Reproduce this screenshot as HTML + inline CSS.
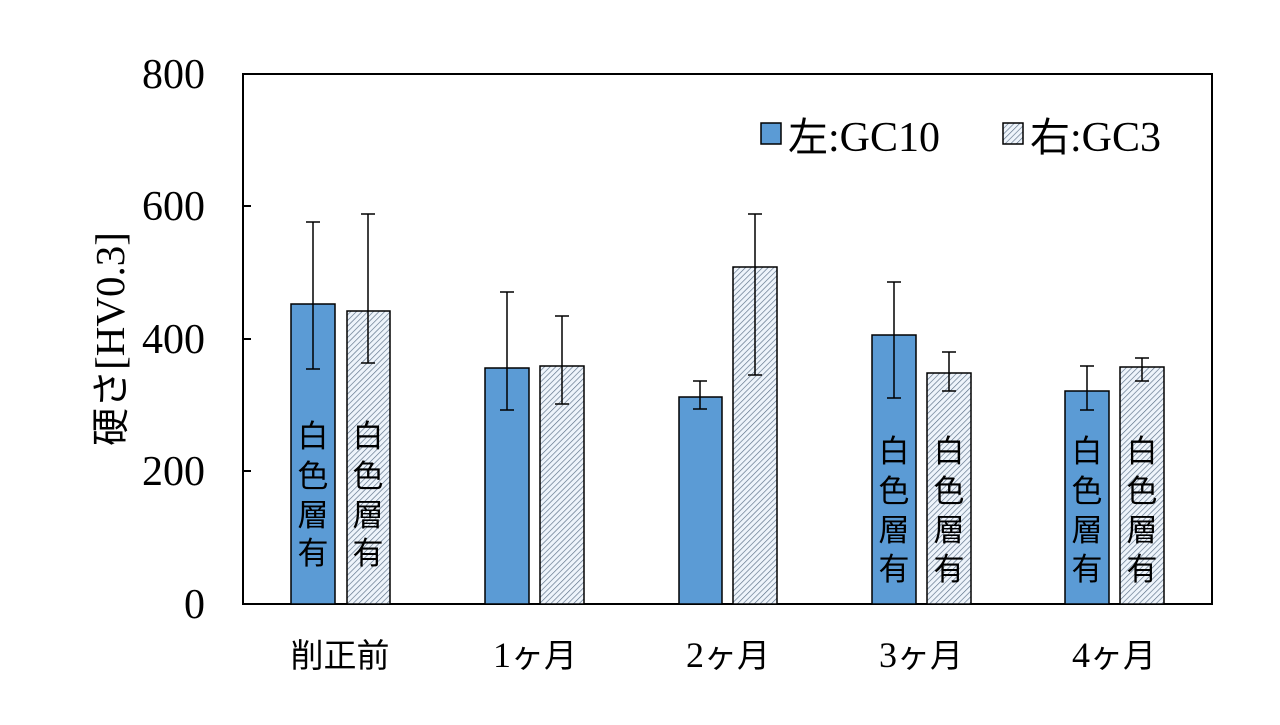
<!DOCTYPE html>
<html><head><meta charset="utf-8"><style>body{margin:0;background:#fff}</style></head><body>
<svg width="1280" height="720" xmlns="http://www.w3.org/2000/svg">
<defs>
<pattern id="h" patternUnits="userSpaceOnUse" width="4" height="4" patternTransform="rotate(45)">
<rect width="4" height="4" fill="#eef4fb"/>
<line x1="0" y1="0" x2="0" y2="4" stroke="#5a6f86" stroke-width="1.3"/>
</pattern>
</defs>
<rect x="243" y="74" width="969" height="530" fill="none" stroke="#000" stroke-width="2"/>
<g font-family="Liberation Serif, serif" font-size="42" text-anchor="end">
<text x="205" y="88">800</text><text x="205" y="220">600</text><text x="205" y="353">400</text><text x="205" y="485">200</text><text x="205" y="618">0</text>
</g>
<g stroke="#000" stroke-width="2">
<line x1="243" y1="206" x2="251" y2="206"/><line x1="243" y1="339" x2="251" y2="339"/><line x1="243" y1="471" x2="251" y2="471"/>
</g>
<text transform="translate(124,339) rotate(-90)" text-anchor="middle" font-family="Liberation Serif, 'Noto Sans CJK JP', serif" font-size="41"><tspan font-family="Noto Sans CJK JP, sans-serif" font-size="38">硬さ</tspan>[HV0.3]</text>
<g stroke="#000" stroke-width="1.5">
<rect x="291" y="304" width="44" height="300" fill="#5B9BD5"/>
<rect x="347" y="311" width="43" height="293" fill="url(#h)"/>
<rect x="485" y="368" width="44" height="236" fill="#5B9BD5"/>
<rect x="540" y="366" width="44" height="238" fill="url(#h)"/>
<rect x="679" y="397" width="43" height="207" fill="#5B9BD5"/>
<rect x="733" y="267" width="44" height="337" fill="url(#h)"/>
<rect x="872" y="335" width="44" height="269" fill="#5B9BD5"/>
<rect x="927" y="373" width="44" height="231" fill="url(#h)"/>
<rect x="1065" y="391" width="44" height="213" fill="#5B9BD5"/>
<rect x="1120" y="367" width="44" height="237" fill="url(#h)"/>
</g>
<g stroke="#000" stroke-width="1.5" fill="none">
<path d="M313 222V369M306 222h14M306 369h14"/>
<path d="M368 214V363M361 214h14M361 363h14"/>
<path d="M507 292V410M500 292h14M500 410h14"/>
<path d="M562 316V404M555 316h14M555 404h14"/>
<path d="M700 381V409M693 381h14M693 409h14"/>
<path d="M755 214V375M748 214h14M748 375h14"/>
<path d="M894 282V398M887 282h14M887 398h14"/>
<path d="M949 352V391M942 352h14M942 391h14"/>
<path d="M1087 366V410M1080 366h14M1080 410h14"/>
<path d="M1142 358V381M1135 358h14M1135 381h14"/>
</g>
<g font-family="Noto Sans CJK JP, sans-serif" font-size="31" text-anchor="middle">
<text x="313" y="447">白</text><text x="313" y="487">色</text><text x="313" y="526">層</text><text x="313" y="564">有</text>
<text x="368" y="447">白</text><text x="368" y="487">色</text><text x="368" y="526">層</text><text x="368" y="564">有</text>
<text x="894" y="462">白</text><text x="894" y="502">色</text><text x="894" y="541">層</text><text x="894" y="580">有</text>
<text x="949" y="462">白</text><text x="949" y="502">色</text><text x="949" y="541">層</text><text x="949" y="580">有</text>
<text x="1087" y="462">白</text><text x="1087" y="502">色</text><text x="1087" y="541">層</text><text x="1087" y="580">有</text>
<text x="1142" y="462">白</text><text x="1142" y="502">色</text><text x="1142" y="541">層</text><text x="1142" y="580">有</text>
</g>
<g font-family="Liberation Serif, 'Noto Sans CJK JP', serif" font-size="36" text-anchor="middle">
<text x="340" y="667" font-family="Noto Sans CJK JP, sans-serif" font-size="33">削正前</text>
<text x="535" y="667">1<tspan font-family="Noto Sans CJK JP, sans-serif" font-size="33">ヶ月</tspan></text>
<text x="728" y="667">2<tspan font-family="Noto Sans CJK JP, sans-serif" font-size="33">ヶ月</tspan></text>
<text x="921" y="667">3<tspan font-family="Noto Sans CJK JP, sans-serif" font-size="33">ヶ月</tspan></text>
<text x="1114" y="667">4<tspan font-family="Noto Sans CJK JP, sans-serif" font-size="33">ヶ月</tspan></text>
</g>
<rect x="761" y="123" width="20" height="21" fill="#5B9BD5" stroke="#000" stroke-width="1.5"/>
<rect x="1003" y="123" width="20" height="21" fill="url(#h)" stroke="#000" stroke-width="1.5"/>
<g font-family="Liberation Serif, serif" font-size="42">
<text x="788" y="151"><tspan font-family="Noto Sans CJK JP, sans-serif" font-size="40">左</tspan>:GC10</text>
<text x="1030" y="151"><tspan font-family="Noto Sans CJK JP, sans-serif" font-size="40">右</tspan>:GC3</text>
</g>
</svg>
</body></html>
